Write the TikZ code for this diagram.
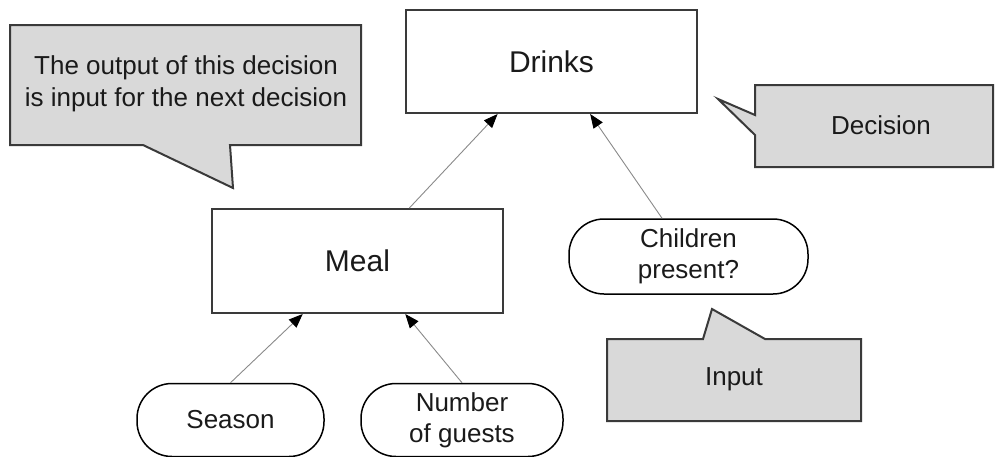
\documentclass[tikz,border=0pt]{standalone}
\usepackage{fontspec}
\setmainfont{Liberation Sans}
\usetikzlibrary{arrows.meta,calc}
\definecolor{calloutfill}{HTML}{D9D9D9}
\definecolor{boxline}{HTML}{3A3A3A}
\definecolor{linkgrey}{HTML}{8A8A8A}
\definecolor{txt}{HTML}{1A1A1A}
\tikzset{
  decisionbox/.style={draw=boxline, line width=2pt, fill=white, minimum width=291pt, minimum height=103pt, inner sep=0pt, text=txt, font=\fontsize{30}{36}\selectfont},
  inputoval/.style={draw=black, line width=1.5pt, fill=white, rounded corners=35pt, inner sep=0pt, minimum height=73pt, text=txt, align=center, font=\fontsize{26}{31}\selectfont},
  calloutshape/.style={draw=boxline, line width=2pt, fill=calloutfill, line join=miter},
  callouttext/.style={text=txt, align=center, inner sep=0pt, font=\fontsize{26}{32}\selectfont},
  link/.style={draw=linkgrey, line width=0.9pt, -{Triangle[length=14pt,width=11pt,fill=black,color=black]}}
}
\begin{document}
\begin{tikzpicture}[x=1pt,y=-1pt]
\useasboundingbox (0,0) rectangle (996,456);
% callouts
\draw[calloutshape] (10,25) -- (361,25) -- (361,145) -- (230,145) -- (233,188) -- (143,145) -- (10,145) -- cycle;
\node[callouttext] (cnext) at (186,84) {The output of this decision\\is input for the next decision};
\draw[calloutshape] (755,85) -- (993,85) -- (993,167) -- (755,167) -- (755,135) -- (718,99) -- (755,115) -- cycle;
\node[callouttext] (cdec) at (881,125) {Decision};
\draw[calloutshape] (607,339) -- (703,339) -- (712,309) -- (765,339) -- (861,339) -- (861,421) -- (607,421) -- cycle;
\node[callouttext] (cinp) at (734,379) {Input};
% nodes
\node[decisionbox] (drinks) at (551.5,61.5) {Drinks};
\node[decisionbox, minimum height=104pt] (meal) at (357.5,261) {Meal};
\node[inputoval, minimum width=187pt] (season) at (230.5,420) {Season};
\node[inputoval, minimum width=202pt] (number) at (462,420) {Number\\of guests};
\node[inputoval, minimum width=239pt, minimum height=75pt] (children) at (688.5,256.5) {Children\\present?};
% connectors
\draw[link] ($(meal.north west)!0.677!(meal.north east)$) -- ($(drinks.south west)!0.316!(drinks.south east)$);
\draw[link] ($(children.north west)!0.39!(children.north east)$) -- ($(drinks.south west)!0.632!(drinks.south east)$);
\draw[link] (season.north) -- ($(meal.south west)!0.313!(meal.south east)$);
\draw[link] (number.north) -- ($(meal.south west)!0.663!(meal.south east)$);
\end{tikzpicture}
\end{document}
